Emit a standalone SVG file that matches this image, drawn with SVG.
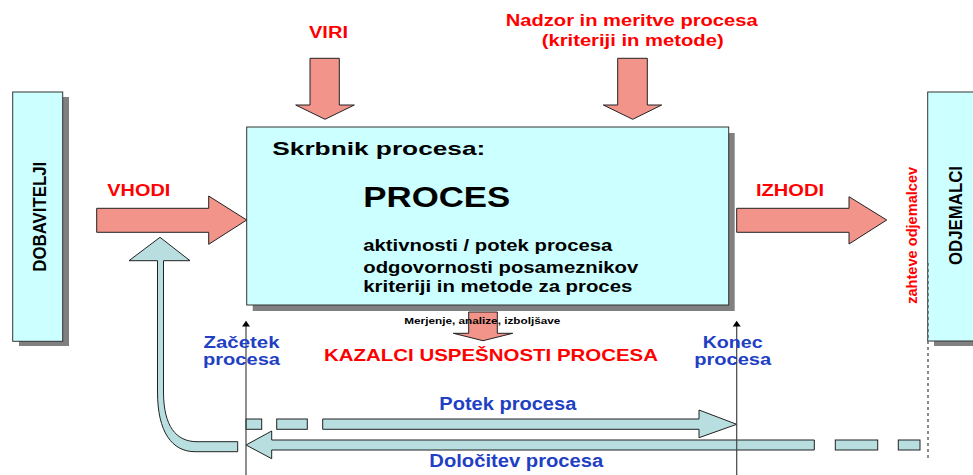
<svg xmlns="http://www.w3.org/2000/svg" width="973" height="475" viewBox="0 0 973 475">
  <defs>
    <style>
      .box { fill: #CCFFFF; stroke: #333; stroke-width: 1; }
      .shadow { fill: #808080; }
      .red-arrow { fill: #F2948A; stroke: #222; stroke-width: 1; }
      .teal-arrow { fill: #B8DEE0; stroke: #222; stroke-width: 1; }
      .axis { stroke: #444; stroke-width: 1.2; fill: none; }
      .tip { fill: #000; }
      .dotted { stroke: #666; stroke-width: 1.5; stroke-dasharray: 3 3; fill: none; }
      text { font-family: "Liberation Sans", Arial, sans-serif; font-weight: bold; }
      .red { fill: #FF0000; }
      .blue { fill: #1F3FC4; }
      .black { fill: #000; }
    </style>
  </defs>

  <!-- suppliers -->
  <g id="dobavitelji">
    <rect class="shadow" x="19" y="97" width="50" height="249"/>
    <rect class="box" x="12.7" y="92" width="50" height="249.3"/>
    <text class="black" font-size="16.5" text-anchor="middle" textLength="110" lengthAdjust="spacingAndGlyphs" transform="translate(46,216.7) rotate(-90) scale(1,1.1)">DOBAVITELJI</text>
  </g>

  <!-- customers -->
  <g id="odjemalci">
    <rect class="shadow" x="934" y="97" width="50" height="249"/>
    <rect class="box" x="927.7" y="92" width="52" height="249"/>
    <text class="black" font-size="16.5" text-anchor="middle" textLength="99" lengthAdjust="spacingAndGlyphs" transform="translate(961.7,215.5) rotate(-90) scale(1,1.1)">ODJEMALCI</text>
  </g>

  <!-- process box -->
  <g id="proces">
    <rect class="shadow" x="252.7" y="133" width="482" height="178"/>
    <rect class="box" x="246.7" y="127" width="482" height="178"/>
    <text class="black" x="272.3" y="155" font-size="19" textLength="213" lengthAdjust="spacingAndGlyphs">Skrbnik procesa:</text>
    <text class="black" x="363.3" y="207.3" font-size="29" textLength="147" lengthAdjust="spacingAndGlyphs">PROCES</text>
    <text class="black" x="363.3" y="251" font-size="16" textLength="249" lengthAdjust="spacingAndGlyphs">aktivnosti / potek procesa</text>
    <text class="black" x="363.3" y="272.5" font-size="16" textLength="275" lengthAdjust="spacingAndGlyphs">odgovornosti posameznikov</text>
    <text class="black" x="363.3" y="292" font-size="16" textLength="269" lengthAdjust="spacingAndGlyphs">kriteriji in metode za proces</text>
  </g>

  <!-- connectors -->
  <g id="connectors">
    <path class="red-arrow" d="M96.7,208.3 H208.7 V196 L246.7,220 L208.7,244.3 V232.3 H96.7 Z"/>
    <path class="red-arrow" d="M736.7,208.3 H849 V196.7 L886.7,220 L849,244 V232.3 H736.7 Z"/>
    <path class="red-arrow" d="M310,58.3 H339.3 V105 H354.3 L325,119.3 L295.7,105 H310 Z"/>
    <path class="red-arrow" d="M617.7,58.3 H647.3 V105 H661.7 L632.7,119.3 L603.3,105 H617.7 Z"/>
    <path class="red-arrow" d="M468.7,312 H497.3 V333.3 H512.7 L483,340.7 L453.3,333.3 H468.7 Z"/>

    <!-- process flow -->
    <rect class="teal-arrow" x="246" y="419" width="15.7" height="10.3"/>
    <rect class="teal-arrow" x="276.7" y="419" width="30.6" height="10.3"/>
    <path class="teal-arrow" d="M322.7,419 H699 V410 L736.7,424.3 L699,437.7 V429.3 H322.7 Z"/>

    <!-- process definition -->
    <path class="teal-arrow" d="M246,445 L271.7,431 V440 H814.3 V450 H271.7 V458.7 Z"/>
    <rect class="teal-arrow" x="835.3" y="440" width="42.4" height="10"/>
    <rect class="teal-arrow" x="898.3" y="440" width="21.7" height="10"/>

    <!-- feedback to inputs -->
    <path class="teal-arrow" d="M237.7,451.7 H195 C172,451.7 157.5,432 157.5,392 V260.7 H129 L160,237.3 L190,260.7 H163.5 V392 C163.5,426 176,441.7 197,441.7 H237.7 Z"/>

    <!-- start / end markers -->
    <line class="axis" x1="246" y1="475" x2="246" y2="325"/>
    <path class="tip" d="M246,320.7 L250,326.5 L242,326.5 Z"/>
    <line class="axis" x1="736.7" y1="475" x2="736.7" y2="325"/>
    <path class="tip" d="M736.7,320.7 L740.7,326.5 L732.7,326.5 Z"/>

    <line class="dotted" x1="928" y1="263" x2="928" y2="460"/>
  </g>

  <!-- labels -->
  <g id="labels">
    <text class="red" x="309" y="37.7" font-size="16" textLength="39" lengthAdjust="spacingAndGlyphs">VIRI</text>
    <text class="red" x="505.7" y="26" font-size="16.5" textLength="252" lengthAdjust="spacingAndGlyphs">Nadzor in meritve procesa</text>
    <text class="red" x="541.7" y="46" font-size="16.5" textLength="182" lengthAdjust="spacingAndGlyphs">(kriteriji in metode)</text>
    <text class="red" x="107.3" y="196" font-size="16.5" textLength="63" lengthAdjust="spacingAndGlyphs">VHODI</text>
    <text class="red" x="756" y="196" font-size="16.5" textLength="68" lengthAdjust="spacingAndGlyphs">IZHODI</text>
    <text class="red" font-size="14" text-anchor="middle" textLength="137" lengthAdjust="spacingAndGlyphs" transform="translate(917,235.3) rotate(-90) scale(1,1.1)">zahteve odjemalcev</text>
    <text class="black" x="404.3" y="324" font-size="9.5" textLength="156" lengthAdjust="spacingAndGlyphs">Merjenje, analize, izboljšave</text>
    <text class="red" x="324" y="361" font-size="17" textLength="334" lengthAdjust="spacingAndGlyphs">KAZALCI USPEŠNOSTI PROCESA</text>
    <text class="blue" x="241.5" y="347.8" font-size="16" text-anchor="middle" textLength="76" lengthAdjust="spacingAndGlyphs">Začetek</text>
    <text class="blue" x="241.5" y="365.2" font-size="16" text-anchor="middle" textLength="77" lengthAdjust="spacingAndGlyphs">procesa</text>
    <text class="blue" x="732.7" y="347.8" font-size="16" text-anchor="middle" textLength="60" lengthAdjust="spacingAndGlyphs">Konec</text>
    <text class="blue" x="732.7" y="365.2" font-size="16" text-anchor="middle" textLength="77" lengthAdjust="spacingAndGlyphs">procesa</text>
    <text class="blue" x="439.3" y="410" font-size="17.5" textLength="137" lengthAdjust="spacingAndGlyphs">Potek procesa</text>
    <text class="blue" x="429.3" y="466.7" font-size="17.5" textLength="174" lengthAdjust="spacingAndGlyphs">Določitev procesa</text>
  </g>
</svg>
